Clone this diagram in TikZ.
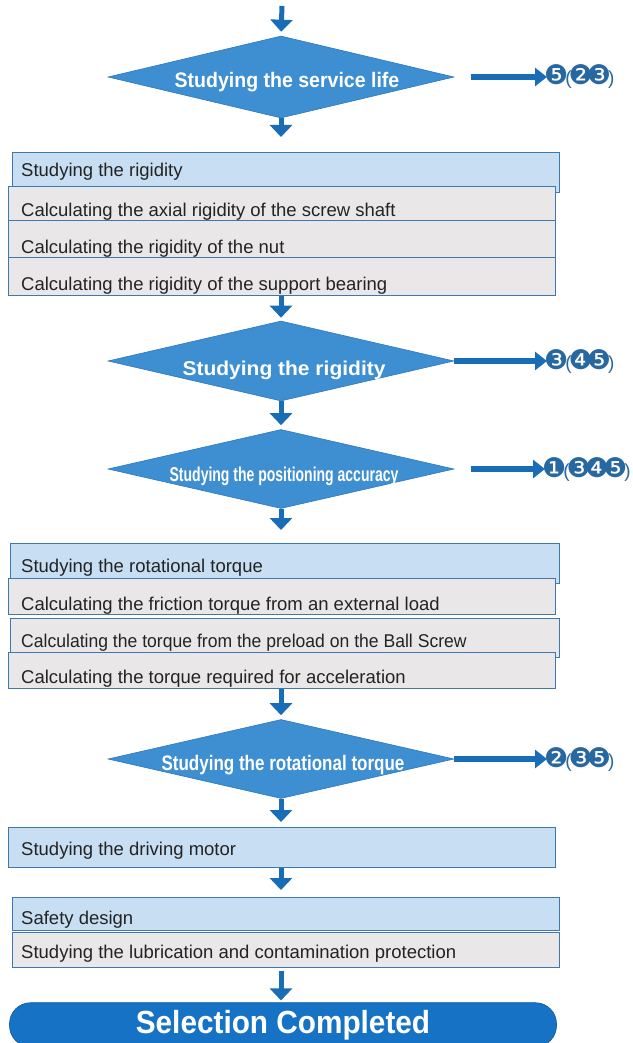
\documentclass[tikz,border=0pt]{standalone}
\usepackage{fontspec}
\usepackage{graphicx}
\setmainfont{Liberation Sans}
\newfontfamily\dvs{DejaVu Sans}
\usetikzlibrary{shapes.geometric,arrows.meta}
\definecolor{diafill}{RGB}{62,142,210}
\definecolor{diaedge}{RGB}{45,120,190}
\definecolor{arrc}{RGB}{25,108,182}
\definecolor{pillc}{RGB}{22,114,196}
\definecolor{hdrfill}{RGB}{200,222,242}
\definecolor{rowfill}{RGB}{233,231,231}
\definecolor{edgec}{RGB}{62,120,172}
\definecolor{numc}{RGB}{40,104,160}
\definecolor{txtc}{RGB}{35,35,35}
\newcommand\circd[1]{\kern-3pt{\dvs\fontsize{27}{27}\selectfont #1}\kern-3pt}
\newcommand\paro{{\fontsize{19}{20}\selectfont(}}
\newcommand\parc{{\fontsize{19}{20}\selectfont)}}
\begin{document}
\begin{tikzpicture}[x=1pt,y=-1pt,
  dia/.style={diamond, fill=diafill, draw=diaedge, line width=0.6pt, inner sep=0pt,
              minimum width=346pt, minimum height=80pt},
  diatxt/.style={anchor=base, inner sep=0pt, text=white, font=\bfseries},
  hdr/.style={rectangle, draw=edgec, fill=hdrfill, line width=1.1pt, inner sep=0pt, anchor=north west},
  rowbox/.style={rectangle, draw=edgec, fill=rowfill, line width=1.1pt, inner sep=0pt, anchor=north west},
  rowtxt/.style={anchor=base west, inner sep=0pt, text=txtc, font=\fontsize{18.5}{20}\selectfont},
  arr/.style={draw=arrc, line width=5pt, -{Triangle[width=22pt,length=12pt]}},
  rarr/.style={draw=arrc, line width=6pt, -{Triangle[width=18pt,length=12pt]}},
  nums/.style={anchor=west, inner sep=0pt, text=numc},
  pill/.style={rectangle, rounded corners=21pt, fill=pillc, draw=pillc!80!black, line width=0.6pt,
               minimum width=547pt, minimum height=44pt, inner sep=0pt, text=white,
               font=\bfseries\fontsize{32}{34}\selectfont}
]
\useasboundingbox (0,0) rectangle (632,1043);
\clip (0,0) rectangle (632,1043);

% ---- Diamond 1
\coordinate (s0) at (282,6);
\node[dia, minimum height=82pt] (d1) at (281,77) {};
\node[diatxt] (t1) at (287,88) {\fontsize{21}{22}\selectfont\scalebox{0.93}[1]{Studying the service life}};
\node[nums] (n1) at (547,77) {\circd{❺}\paro\circd{❷}\circd{❸}\parc};

% ---- Group 1
\node[hdr, minimum width=547pt, minimum height=40pt] (g1h) at (12,152) {};
\node[rowbox, minimum width=547pt, minimum height=34pt] (g1a) at (8,186) {};
\node[rowbox, minimum width=547pt, minimum height=37pt] (g1b) at (8,220) {};
\node[rowbox, minimum width=547pt, minimum height=38pt] (g1c) at (8,257) {};
\node[rowtxt] (g1ht) at (21,177) {Studying the rigidity};
\node[rowtxt] (g1at) at (21,216) {Calculating the axial rigidity of the screw shaft};
\node[rowtxt] (g1bt) at (21,253) {Calculating the rigidity of the nut};
\node[rowtxt] (g1ct) at (21,290) {Calculating the rigidity of the support bearing};

% ---- Diamond 2
\node[dia] (d2) at (281,361) {};
\node[diatxt] (t2) at (284,375) {\fontsize{20}{22}\selectfont\scalebox{1.05}[1]{Studying the rigidity}};
\node[nums] (n2) at (547,361) {\circd{❸}\paro\circd{❹}\circd{❺}\parc};

% ---- Diamond 3
\node[dia, minimum height=79pt] (d3) at (281,469) {};
\node[diatxt] (t3) at (284,481) {\fontsize{20}{22}\selectfont\scalebox{0.7}[1]{Studying the positioning accuracy}};
\node[nums] (n3) at (545,469) {\circd{❶}\paro\circd{❸}\circd{❹}\circd{❺}\parc};

% ---- Group 2
\node[hdr, minimum width=549pt, minimum height=40pt] (g2h) at (10,543) {};
\node[rowbox, minimum width=547pt, minimum height=36pt] (g2a) at (8,578) {};
\node[rowbox, minimum width=549pt, minimum height=39pt] (g2b) at (10,618) {};
\node[rowbox, minimum width=547pt, minimum height=36pt] (g2c) at (8,652) {};
\node[rowtxt] (g2ht) at (21,572) {Studying the rotational torque};
\node[rowtxt] (g2at) at (21,610) {Calculating the friction torque from an external load};
\node[rowtxt] (g2bt) at (21,647) {\scalebox{0.95}[1]{Calculating the torque from the preload on the Ball Screw}};
\node[rowtxt] (g2ct) at (21,683) {Calculating the torque required for acceleration};

% ---- Diamond 4
\node[dia, minimum height=79pt] (d4) at (281,759) {};
\node[diatxt] (t4) at (283,770) {\fontsize{21}{22}\selectfont\scalebox{0.81}[1]{Studying the rotational torque}};
\node[nums] (n4) at (547,759) {\circd{❷}\paro\circd{❸}\circd{❺}\parc};

% ---- Driving motor
\node[hdr, minimum width=547pt, minimum height=40pt] (mot) at (8,827) {};
\node[rowtxt] (mott) at (21,855) {Studying the driving motor};

% ---- Safety
\node[hdr, minimum width=547pt, minimum height=33pt] (saf) at (12,897) {};
\node[rowbox, minimum width=547pt, minimum height=35pt] (lub) at (12,932) {};
\node[rowtxt] (saft) at (21,924) {Safety design};
\node[rowtxt] (lubt) at (21,958) {Studying the lubrication and contamination protection};

% ---- Final
\node[pill, anchor=base] (done) at (283,1033) {\scalebox{0.93}[1]{Selection Completed}};

% ---- Connectors
\draw[arr, shorten >=4pt] (s0) -- (d1.north);
\draw[arr, shorten >=15pt] (d1.south) -- (d1.south |- g1h.north);
\draw[arr, shorten >=3pt] (d1.south |- g1c.south) -- (d2.north);
\draw[arr, shorten >=4pt] (d2.south) -- (d3.north);
\draw[arr, shorten >=13pt] (d3.south) -- (d3.south |- g2h.north);
\draw[arr, shorten >=4pt] (d3.south |- g2c.south) -- (d4.north);
\draw[arr, shorten >=5pt] (d4.south) -- (d4.south |- mot.north);
\draw[arr, shorten >=7pt] (d4.south |- mot.south) -- (d4.south |- saf.north);
\draw[arr, shorten <=3pt, shorten >=2pt] (d4.south |- lub.south) -- (d4.south |- done.north);

\draw[rarr, shorten <=17pt, shorten >=0pt] (d1.east) -- (n1.west);
\draw[rarr, shorten >=0pt] (d2.east) -- (n2.west);
\draw[rarr, shorten <=17pt, shorten >=0pt] (d3.east) -- (n3.west);
\draw[rarr, shorten >=0pt] (d4.east) -- (n4.west);
\end{tikzpicture}
\end{document}
